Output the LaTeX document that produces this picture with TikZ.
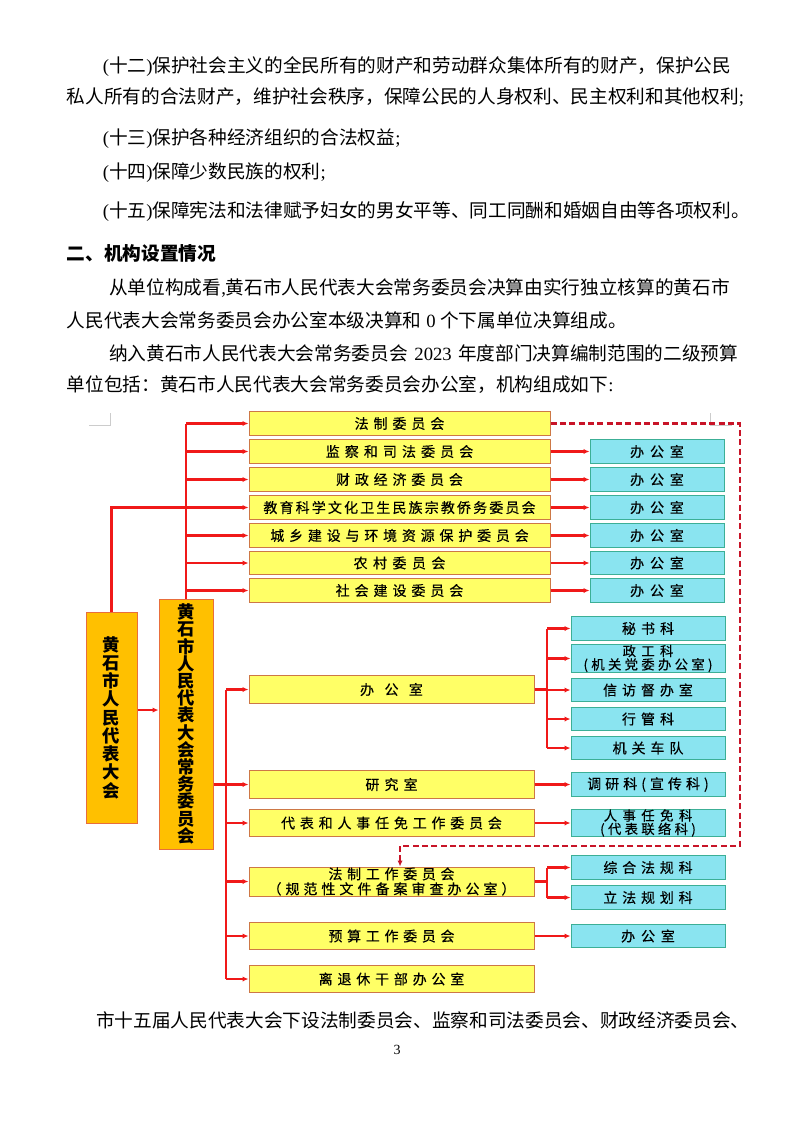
\documentclass[tikz,border=0pt]{standalone}
\usepackage{fontspec}
\setmainfont{Noto Sans CJK SC}
\newfontfamily\lat{Liberation Serif}
\newfontfamily\boxfont[FakeBold=0.4]{Noto Sans CJK SC}
\usepackage{xcolor}
\usetikzlibrary{arrows.meta, positioning, calc}

\definecolor{boxyellow}{RGB}{255,255,102}
\definecolor{boxyellowline}{RGB}{205,120,70}
\definecolor{boxcyan}{RGB}{138,228,240}
\definecolor{boxcyanline}{RGB}{60,175,150}
\definecolor{boxorange}{RGB}{255,192,0}
\definecolor{boxorangeline}{RGB}{232,110,60}
\definecolor{linkred}{RGB}{240,25,25}
\definecolor{dashred}{RGB}{200,20,40}

% letter spacing for the box labels
\newlength\trk
\def\trkloop#1{\ifx#1\relax\else#1\kern\trk\expandafter\trkloop\fi}
\newcommand\tracked[2]{\trk=#1\relax\trkloop#2\relax\kern-\trk}
% justified body line
\newcommand\jline[2]{\hbox to #1{\XeTeXlinebreaklocale "zh"\XeTeXlinebreakskip=0pt plus 3pt minus 2pt\relax#2}}

\tikzset{
    body_text/.style={anchor=west, inner sep=0pt, font=\fontsize{14pt}{16pt}\selectfont},
    yellow_box/.style={draw=boxyellowline, fill=boxyellow, line width=0.75pt, inner sep=0pt, minimum height=17.6pt, font=\boxfont\fontsize{10.5pt}{11pt}\selectfont},
    top_box/.style={yellow_box, minimum width=225.75pt},
    low_box/.style={yellow_box, minimum width=213.75pt, minimum height=20.6pt},
    cyan_box/.style={draw=boxcyanline, fill=boxcyan, line width=0.75pt, inner sep=0pt, minimum height=17.6pt, font=\boxfont\fontsize{10.5pt}{11pt}\selectfont},
    office_box/.style={cyan_box, minimum width=100.5pt},
    section_box/.style={cyan_box, minimum width=115.5pt},
    orange_box/.style={draw=boxorangeline, fill=boxorange, line width=0.75pt, inner sep=0pt, align=center, font=\bfseries\fontsize{13pt}{13.7pt}\selectfont},
    red_line/.style={draw=linkred, line width=1.7pt},
    red_link/.style={red_line, -{Latex[length=4.5pt,width=4pt]}},
    dash_link/.style={draw=dashred, line width=1.7pt, dash pattern=on 4.5pt off 2.5pt, -{Latex[length=4.5pt,width=4pt]}},
    mark_line/.style={draw=black!20, line width=0.6pt}
}

\begin{document}
\begin{tikzpicture}[x=0.75pt, y=-0.75pt]
    \useasboundingbox (0,0) rectangle (794,1123);
    % Text above the chart
    \node[body_text] (l12a) at (102.6,66.5) {\jline{476.6pt}{{\lat (}十二{\lat )}保护社会主义的全民所有的财产和劳动群众集体所有的财产，保护公民}};
    \node[body_text] (l12b) at (66.7,97.5) {\jline{503.5pt}{私人所有的合法财产，维护社会秩序，保障公民的人身权利、民主权利和其他权利{\lat ;}}};
    \node[body_text] (l13) at (102.6,138.5) {{\lat (}十三{\lat )}保护各种经济组织的合法权益{\lat ;}};
    \node[body_text] (l14) at (102.6,173) {{\lat (}十四{\lat )}保障少数民族的权利{\lat ;}};
    \node[body_text] (l15) at (102.6,212) {\jline{476.6pt}{{\lat (}十五{\lat )}保障宪法和法律赋予妇女的男女平等、同工同酬和婚姻自由等各项权利。}};
    \node[body_text, font=\bfseries\fontsize{14pt}{16pt}\selectfont] (head2) at (66.7,253) {二、机构设置情况};
    \node[body_text] (p1a) at (109,288) {\jline{471.75pt}{从单位构成看{\lat ,}黄石市人民代表大会常务委员会决算由实行独立核算的黄石市}};
    \node[body_text] (p1b) at (66.7,320) {人民代表大会常务委员会办公室本级决算和{\lat\ 0\ }个下属单位决算组成。};
    \node[body_text] (p2a) at (109,353) {\jline{471.75pt}{纳入黄石市人民代表大会常务委员会{\lat\ 2023\ }年度部门决算编制范围的二级预算}};
    \node[body_text] (p2b) at (66.7,385) {单位包括：黄石市人民代表大会常务委员会办公室，机构组成如下{\lat :}};

    % Text-boundary marks
    \draw[mark_line] (89,425.5) -- (110.7,425.5) -- (110.7,413);
    \draw[mark_line] (710.7,413) -- (710.7,425.5) -- (732,425.5);

    % Congress and standing committee
    \node[orange_box, minimum width=38.25pt, minimum height=158.25pt] (npc) at (111.5,717.5) {黄\\石\\市\\人\\民\\代\\表\\大\\会};
    \node[orange_box, minimum width=40.5pt, minimum height=187.5pt, font=\bfseries\fontsize{13pt}{12.9pt}\selectfont] (sc) at (186,724) {黄\\石\\市\\人\\民\\代\\表\\大\\会\\常\\务\\委\\员\\会};

    % Special committees
    \node[top_box] (c_law) at (399.5,423.5) {\tracked{3.7pt}{法制委员会}};
    \node[top_box] (c_sup) at (399.5,451.5) {\tracked{3.8pt}{监察和司法委员会}};
    \node[top_box] (c_fin) at (399.5,479.5) {\tracked{3.6pt}{财政经济委员会}};
    \node[top_box] (c_edu) at (399.5,507.5) {\tracked{1.6pt}{教育科学文化卫生民族宗教侨务委员会}};
    \node[top_box] (c_urb) at (399.5,535.5) {\tracked{3.6pt}{城乡建设与环境资源保护委员会}};
    \node[top_box] (c_rur) at (399.5,563) {\tracked{4.1pt}{农村委员会}};
    \node[top_box] (c_soc) at (399.5,590.5) {\tracked{3.7pt}{社会建设委员会}};
    \foreach \k/\y in {k_sup/451.5, k_fin/479.5, k_edu/507.5, k_urb/535.5, k_rur/563, k_soc/590.5}
        \node[office_box] (\k) at (657,\y) {\tracked{4.4pt}{办公室}};

    % Working bodies of the standing committee
    \node[low_box] (o_off) at (391.5,689.5) {\tracked{7.8pt}{办公室}};
    \node[low_box] (o_res) at (391.5,784.5) {\tracked{3.8pt}{研究室}};
    \node[low_box] (o_rep) at (391.5,823) {\tracked{3.6pt}{代表和人事任免工作委员会}};
    \node[low_box, minimum height=21.75pt, align=center, font=\boxfont\fontsize{10.5pt}{11.2pt}\selectfont] (o_law) at (391.5,881.5) {\tracked{3.5pt}{法制工作委员会}\\\tracked{3pt}{（规范性文件备案审查办公室）}};
    \node[low_box] (o_bud) at (391.5,936) {\tracked{3.5pt}{预算工作委员会}};
    \node[low_box] (o_ret) at (391.5,979) {\tracked{3.6pt}{离退休干部办公室}};

    % Sections
    \node[section_box] (s_sec) at (648,628.5) {\tracked{3.8pt}{秘书科}};
    \node[section_box, minimum height=19.1pt, align=center, font=\boxfont\fontsize{10pt}{10pt}\selectfont] (s_pol) at (648,658.5) {\tracked{4pt}{政工科}\\\tracked{2.5pt}{(机关党委办公室)}};
    \node[section_box] (s_vis) at (648,690) {\tracked{3.7pt}{信访督办室}};
    \node[section_box] (s_adm) at (648,719) {\tracked{3.8pt}{行管科}};
    \node[section_box] (s_car) at (648,748) {\tracked{3.7pt}{机关车队}};
    \node[section_box] (s_rsc) at (648,784.5) {\tracked{3pt}{调研科(宣传科)}};
    \node[section_box, minimum height=19.5pt, align=center, font=\boxfont\fontsize{10pt}{10pt}\selectfont] (s_rep) at (648,823) {\tracked{4.1pt}{人事任免科}\\\tracked{2.5pt}{(代表联络科)}};
    \node[section_box] (s_gen) at (648,867.5) {\tracked{3.6pt}{综合法规科}};
    \node[section_box] (s_leg) at (648,897.5) {\tracked{3.6pt}{立法规划科}};
    \node[section_box] (s_bud) at (648,936) {\tracked{4.4pt}{办公室}};

    % Upper tree
    \draw[red_line] (npc.north) |- (sc.north |- c_edu.west);
    \draw[red_line] (sc.north) -- (sc.north |- c_law.west);
    \foreach \c in {c_law, c_sup, c_fin, c_edu, c_urb, c_rur, c_soc}
        \draw[red_link] (sc.north |- \c.west) -- (\c.west);
    \foreach \c/\k in {c_sup/k_sup, c_fin/k_fin, c_edu/k_edu, c_urb/k_urb, c_rur/k_rur, c_soc/k_soc}
        \draw[red_link] (\c.east) -- (\k.west);
    \draw[red_link] ([yshift=5.6pt]npc.east) -- ([yshift=5.6pt]npc.east -| sc.west);

    % Lower tree
    \coordinate (low_bus) at (226,784.5);
    \coordinate (sub_bus) at (547,689.5);
    \draw[red_line] (sc.east |- o_res.west) -- (low_bus |- o_res.west);
    \draw[red_line] (low_bus |- o_off.west) -- (low_bus |- o_ret.west);
    \foreach \o in {o_off, o_res, o_rep, o_law, o_bud, o_ret}
        \draw[red_link] (low_bus |- \o.west) -- (\o.west);
    \draw[red_line] (o_off.east) -- (sub_bus |- o_off.east);
    \draw[red_line] (sub_bus |- s_sec.west) -- (sub_bus |- s_car.west);
    \foreach \s in {s_sec, s_pol, s_vis, s_adm, s_car}
        \draw[red_link] (sub_bus |- \s.west) -- (\s.west);
    \draw[red_line] (o_law.east) -- (sub_bus |- o_law.east);
    \draw[red_line] (sub_bus |- s_gen.west) -- (sub_bus |- s_leg.west);
    \foreach \s in {s_gen, s_leg}
        \draw[red_link] (sub_bus |- \s.west) -- (\s.west);
    \foreach \o/\s in {o_res/s_rsc, o_rep/s_rep, o_bud/s_bud}
        \draw[red_link] (\o.east) -- (\s.west);

    % Dashed link
    \coordinate (dash_turn) at (740,846);
    \draw[dash_link] (c_law.east) -| (dash_turn) -| ([xshift=6.4pt]o_law.north);

    % Text below the chart
    \node[body_text] (p3) at (96,1020) {\jline{481.5pt}{市十五届人民代表大会下设法制委员会、监察和司法委员会、财政经济委员会、}};
    \node[inner sep=0pt, font=\lat\fontsize{10.5pt}{12pt}\selectfont] (page_no) at (397,1050) {3};
\end{tikzpicture}
\end{document}
